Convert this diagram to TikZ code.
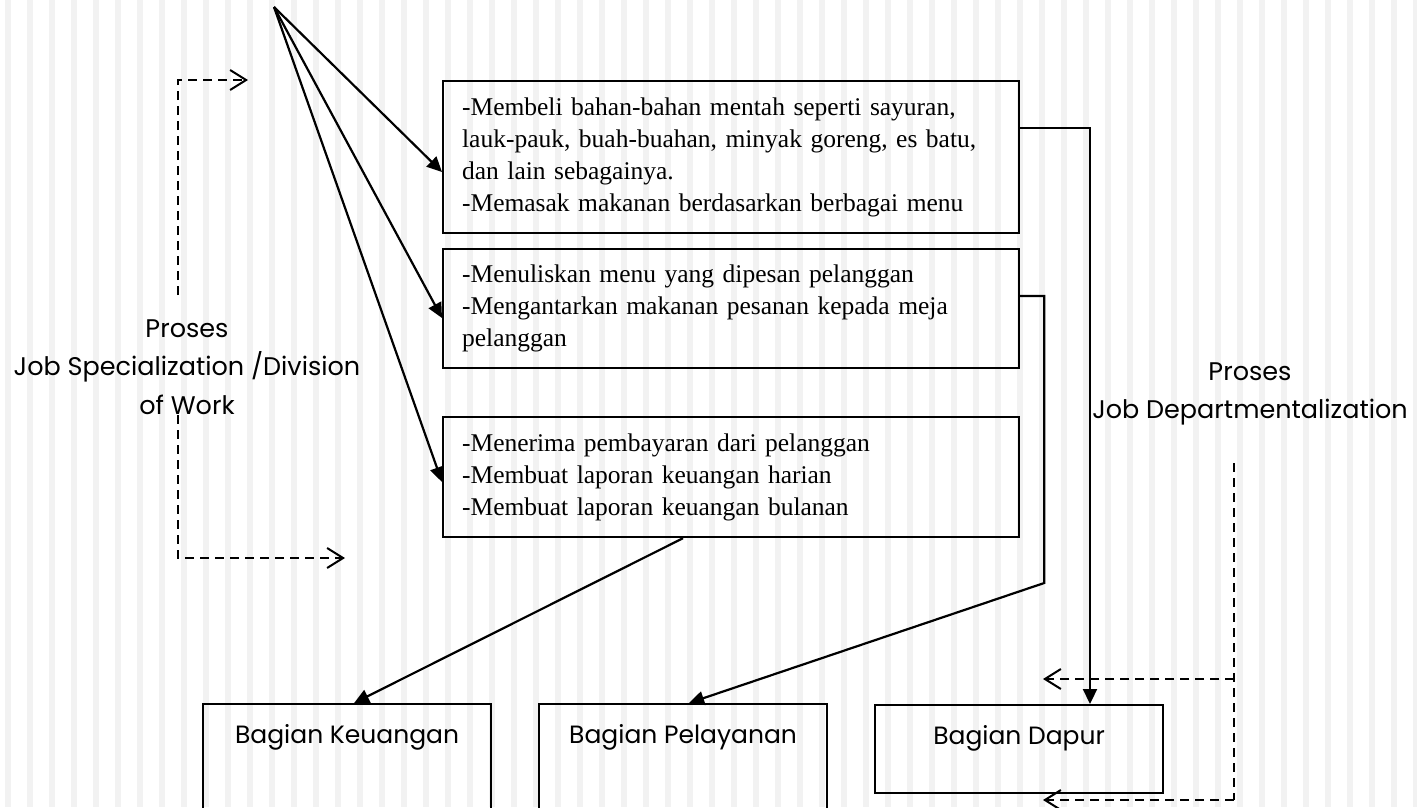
\documentclass[tikz,border=0pt]{standalone}
\usepackage{fontspec}
\setmainfont{Liberation Serif}
\newfontfamily\judulfont{Poppins}
\usetikzlibrary{positioning,calc,arrows.meta}
\definecolor{garisbg}{RGB}{242,242,242}

\tikzset{
  tugas/.style={draw, line width=2.2pt, anchor=north west, text width=538pt,
    inner xsep=19pt, inner ysep=0pt, align=left, font=\fontsize{25.5}{32}\selectfont},
  bagkotak/.style={draw, line width=2.2pt, anchor=north west, minimum width=288pt},
  bagteks/.style={font=\judulfont\fontsize{25}{26}\selectfont, inner sep=0pt},
  proses/.style={font=\judulfont\fontsize{25.5}{38.5}\selectfont, align=center},
  panah/.style={line width=2.2pt, -{Triangle[length=15pt,width=14pt]}},
  putus/.style={line width=2pt, dash pattern=on 9pt off 6pt,
    -{Straight Barb[length=16pt,width=20pt]}},
}

\begin{document}
\begin{tikzpicture}[x=1pt, y=-1pt]
    \useasboundingbox (0,0) rectangle (1417,807);
    \clip (0,0) rectangle (1417,807);

    % latar bergaris
    \foreach \x in {5,27,...,1417}
        \fill[garisbg] (\x,0) rectangle ++(6,807);

    % kotak tugas
    \node[tugas, minimum height=152pt] (tugasDapur) at (442,80)
        {-Membeli bahan-bahan mentah seperti sayuran,\\
         lauk-pauk, buah-buahan, minyak goreng, es batu,\\
         dan lain sebagainya.\\
         -Memasak makanan berdasarkan berbagai menu};
    \node[tugas, minimum height=119pt] (tugasLayan) at (442,248)
        {-Menuliskan menu yang dipesan pelanggan\\
         -Mengantarkan makanan pesanan kepada meja\\
         pelanggan};
    \node[tugas, minimum height=120pt] (tugasUang) at (442,416)
        {-Menerima pembayaran dari pelanggan\\
         -Membuat laporan keuangan harian\\
         -Membuat laporan keuangan bulanan};

    % kotak bagian
    \node[bagkotak, minimum height=125pt] (bagUang) at (202,703) {};
    \node[bagkotak, minimum height=125pt] (bagLayan) at (538,703) {};
    \node[bagkotak, minimum height=88pt] (bagDapur) at (874,704) {};
    \node[bagteks, below=21pt of bagUang.north] (tUang) {Bagian Keuangan};
    \node[bagteks, below=21pt of bagLayan.north] (tLayan) {Bagian Pelayanan};
    \node[bagteks, below=21pt of bagDapur.north] (tDapur) {Bagian Dapur};

    % label proses
    \node[proses] (lblSpesial) at (187,367)
        {Proses\\Job Specialization /Division\\of Work};
    \node[proses] (lblDepart) at (1250,394)
        {Proses\\Job Departmentalization};

    % panah dari atas
    \coordinate (asal) at (274,7);
    \draw[panah] (asal) -- ($(tugasDapur.north west)+(0,92)$);
    \draw[panah] (asal) -- ($(tugasLayan.north west)+(0,70)$);
    \draw[panah] (asal) -- ($(tugasUang.north west)+(0,66)$);

    % panah ke bagian
    \draw[panah] ($(tugasDapur.north east)+(0,48)$) -| ($(bagDapur.north west)+(216,0)$);
    \draw[panah] ($(tugasLayan.north east)+(0,48)$) -- ++(24,0) -- ++(0,287)
        -- ($(bagLayan.north)+(6,0)$);
    \draw[panah] ($(tugasUang.south west)+(241,0)$) -- ($(bagUang.north)+(7,0)$);

    % garis putus kiri
    \coordinate (spAtas) at (178,295);
    \coordinate (spBawah) at (178,415);
    \draw[putus] (spAtas) |- (248,80);
    \draw[putus] (spBawah) |- (345,558);

    % garis putus kanan
    \coordinate (dpAtas) at (1234,463);
    \coordinate (dpBawah) at (1234,800);
    \draw[putus, -] (dpAtas) -- (dpBawah);
    \draw[putus] (dpAtas |- 0,679) -- (1043,679);
    \draw[putus] (dpBawah) -- (1043,800);
\end{tikzpicture}
\end{document}
